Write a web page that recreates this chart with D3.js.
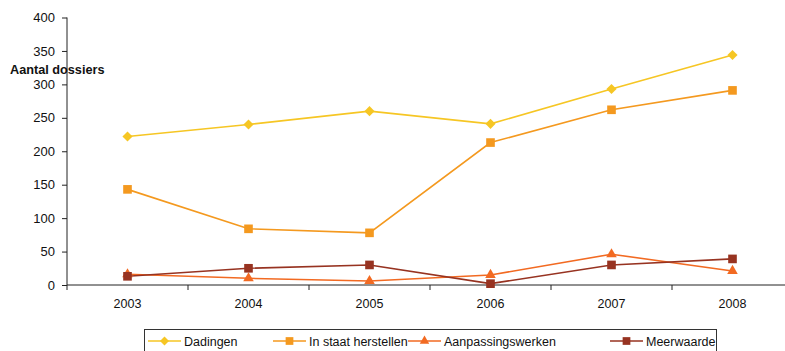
<!DOCTYPE html>
<html><head><meta charset="utf-8">
<script src="https://cdn.jsdelivr.net/npm/d3@7"></script>
<style>body{margin:0;background:#fff}svg{display:block;font-family:"Liberation Sans",Arial,sans-serif}</style>
</head><body><svg id="c" width="785" height="351"></svg>
<script>
const years = ["2003","2004","2005","2006","2007","2008"];
const dadingen = [222, 240, 260, 241, 293, 344];
const herstellen = [143, 84, 78, 213, 262, 291];
const aanpassing = [16, 10, 6, 15, 46, 21];
const meerwaarde = [13, 25, 30, 2, 30, 39];
const yTicks = [0, 50, 100, 150, 200, 250, 300, 350, 400];
const seriesNames = ["Dadingen", "In staat herstellen", "Aanpassingswerken", "Meerwaarde"];

const series = [
  {name: seriesNames[0], values: dadingen, color: "#F6C624", shape: d3.symbolDiamond2, size: 65},
  {name: seriesNames[1], values: herstellen, color: "#F4991F", shape: d3.symbolSquare2, size: 95},
  {name: seriesNames[2], values: aanpassing, color: "#F26A22", shape: d3.symbolTriangle2, size: 80},
  {name: seriesNames[3], values: meerwaarde, color: "#973321", shape: d3.symbolSquare2, size: 95}
];

const svg = d3.select("#c");
const x = d3.scaleBand().domain(years).range([67, 793]);
const y = d3.scaleLinear().domain([0, 400]).range([285, 17.5]);

// y axis
const ya = svg.append("g").attr("transform","translate(67,0)")
  .call(d3.axisLeft(y).tickValues(yTicks).tickSize(5).tickPadding(7));
ya.selectAll("text").attr("font-size", 13).attr("fill","#111").attr("font-family","Liberation Sans, Arial");
ya.select(".domain").attr("stroke","#222").attr("d","M0,17.5V285");
ya.selectAll(".tick line").attr("stroke","#222");

// x axis
const xa = svg.append("g").attr("transform","translate(0,285)")
  .call(d3.axisBottom(x).tickSize(0).tickPadding(14));
xa.select(".domain").attr("stroke","#222").attr("d","M67,0H793");
xa.selectAll("text").attr("font-size", 12.5).attr("fill","#111").attr("font-family","Liberation Sans, Arial");
// boundary ticks between categories
const bounds = years.map(d => x(d));
svg.append("g").selectAll("line").data(bounds).join("line")
  .attr("x1", d => d).attr("x2", d => d).attr("y1", 285).attr("y2", 290)
  .attr("stroke","#222");

// axis title
svg.append("text").attr("x", 10).attr("y", 74).attr("font-size", 12.7).attr("font-weight","bold")
  .attr("fill","#111").text("Aantal dossiers");

const cx = d => x(d) + x.bandwidth()/2;
const line = d3.line().x((d,i) => cx(years[i])).y(d => y(d));

series.forEach(s => {
  svg.append("path").datum(s.values).attr("d", line).attr("fill","none")
    .attr("stroke", s.color).attr("stroke-width", 1.6);
});
series.forEach(s => {
  svg.append("g").selectAll("path").data(s.values).join("path")
    .attr("transform", (d,i) => `translate(${cx(years[i])},${y(d)})`)
    .attr("d", d3.symbol().type(s.shape).size(s.size)).attr("fill", s.color);
});

// legend
svg.append("rect").attr("x", 144.5).attr("y", 329.5).attr("width", 572).attr("height", 30)
  .attr("fill","none").attr("stroke","#333").attr("stroke-width",1);
const legX = [148, 273, 408, 610];
series.forEach((s, i) => {
  const g = svg.append("g").attr("transform", `translate(${legX[i]},341)`);
  g.append("line").attr("x1",0).attr("x2",33).attr("stroke", s.color).attr("stroke-width",1.6);
  g.append("path").attr("transform","translate(16.5,0)")
    .attr("d", d3.symbol().type(s.shape).size(s.size*0.8)).attr("fill", s.color);
  g.append("text").attr("x", 36).attr("y", 4.5).attr("font-size", 12.5).attr("fill","#111").text(s.name);
});
</script></body></html>
